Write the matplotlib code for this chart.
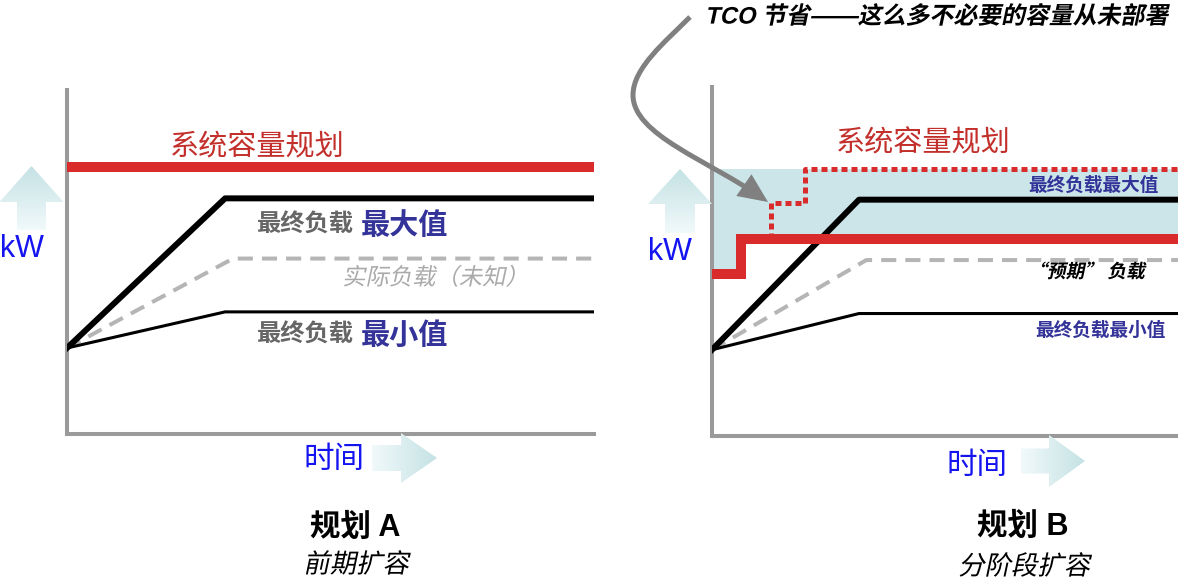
import matplotlib
matplotlib.use("Agg")
import matplotlib.pyplot as plt
import numpy as np
from matplotlib.patches import Polygon, FancyArrowPatch
from matplotlib.path import Path
from matplotlib.patheffects import AbstractPathEffect
from matplotlib.transforms import Affine2D
from matplotlib.colors import LinearSegmentedColormap

plt.rcParams['font.family'] = ['Noto Sans CJK SC', 'DejaVu Sans']

# ---- load curves (same for both plans), time in arbitrary units, load in kW ----
time_pts = [0, 3, 10]
load_max = [25, 68.5, 68.5]
load_min = [25, 35.5, 35.5]
expected_time = [0, 3.15, 10]
load_expected = [25, 51, 51]

# ---- plan A: full capacity installed up front ----
capacity_a = 77.5

# ---- plan B: capacity added in stages ----
stage_time = [0, 0.6, 10]
stage_kw = [47, 57, 57]
unbuilt_time = [1.2, 1.2, 1.9, 10]
unbuilt_kw = [57, 67.5, 77.5, 77.5]

# ---- colours ----
RED = '#d92b2b'
RED_TEXT = '#c3302c'
AXIS_GREY = '#9a9a9a'
DASH_GREY = '#b5b5b5'
FILL = '#cbe5e8'
BLUE = '#1414f0'
NAVY = '#333399'
DARK_GREY = '#666666'
LIGHT_GREY = '#aaaaaa'


class Oblique(AbstractPathEffect):
    """Slant glyph outlines to fake an italic face for CJK text."""

    def __init__(self, angle=12):
        super().__init__()
        self._skew = Affine2D().skew_deg(angle, 0)

    def draw_path(self, renderer, gc, tpath, affine, rgbFace=None):
        renderer.draw_path(gc, tpath, self._skew + affine, rgbFace)


ITALIC = [Oblique(12)]

W, H = 1178, 585
fig = plt.figure(figsize=(W / 100, H / 100), dpi=100)


def px_axes(left, top, right, bottom, **kw):
    return fig.add_axes([left / W, 1 - bottom / H, (right - left) / W, (bottom - top) / H], **kw)


def style_panel(ax, ytop):
    ax.set_xlim(0, 10)
    ax.set_ylim(0, ytop)
    ax.set_xticks([])
    ax.set_yticks([])
    ax.patch.set_alpha(0)
    for side in ('top', 'right'):
        ax.spines[side].set_visible(False)
    for side in ('left', 'bottom'):
        ax.spines[side].set_color(AXIS_GREY)
        ax.spines[side].set_linewidth(2.9)


def draw_loads(ax):
    ax.plot(expected_time, load_expected, color=DASH_GREY, lw=2.9,
            dashes=(3.75, 2.25), solid_capstyle='butt', zorder=2)
    ax.plot(time_pts, load_min, color='black', lw=2.2, zorder=3)
    ax.plot(time_pts, load_max, color='black', lw=4.3, zorder=3)


# ================= Plan A =================
ax_a = px_axes(67, 90, 594, 434)
style_panel(ax_a, 100)
ax_a.plot([0, 10], [capacity_a, capacity_a], color=RED, lw=7.2,
          solid_capstyle='butt', zorder=4)
draw_loads(ax_a)

ax_a.text(1.95, 83.4, '系统容量规划', color=RED_TEXT, fontsize=21, ha='left', va='center')
ax_a.text(3.6, 60.8, '最终负载', color=DARK_GREY, fontsize=17.5, fontweight='bold',
          ha='left', va='center')
ax_a.text(5.58, 60.8, '最大值', color=NAVY, fontsize=21, fontweight='bold',
          ha='left', va='center')
ax_a.text(5.22, 45.3, '实际负载（未知）', color=LIGHT_GREY, fontsize=16.8,
          ha='left', va='center', path_effects=ITALIC)
ax_a.text(3.6, 28.8, '最终负载', color=DARK_GREY, fontsize=17.5, fontweight='bold',
          ha='left', va='center')
ax_a.text(5.58, 28.8, '最小值', color=NAVY, fontsize=21, fontweight='bold',
          ha='left', va='center')

# ================= Plan B =================
ax_b = px_axes(712, 87, 1202, 436)
style_panel(ax_b, 349 / 3.45)
ax_b.fill_between(stage_time, stage_kw, capacity_a, step='post',
                  color=FILL, lw=0, zorder=1)
draw_loads(ax_b)
ax_b.plot(unbuilt_time, unbuilt_kw, color=RED, lw=3.6, dashes=(1.2, 0.8),
          drawstyle='steps-post', zorder=4)
ax_b.plot(stage_time, stage_kw, color=RED, lw=7.2, drawstyle='steps-post',
          solid_capstyle='butt', solid_joinstyle='miter', zorder=5)

ax_b.text(2.53, 84.9, '系统容量规划', color=RED_TEXT, fontsize=21, ha='left', va='center')
ax_b.text(6.45, 72.8, '最终负载最大值', color=NAVY, fontsize=13.4, fontweight='bold',
          ha='left', va='center')
ax_b.text(6.45, 47.5, '“预期” 负载', color='black', fontsize=13.5, fontweight='bold',
          ha='left', va='center', path_effects=ITALIC)
ax_b.text(6.59, 30.7, '最终负载最小值', color=NAVY, fontsize=13.4, fontweight='bold',
          ha='left', va='center')

# ================= decorations (figure pixel space) =================
deco = fig.add_axes([0, 0, 1, 1], zorder=5)
deco.set_axis_off()

arrow_cmap = LinearSegmentedColormap.from_list('arrow', ['#f1f9fa', '#c5e2e5'])


def gradient_arrow(verts, vertical):
    verts = np.asarray(verts, float)
    x0, x1 = verts[:, 0].min(), verts[:, 0].max()
    y0, y1 = verts[:, 1].min(), verts[:, 1].max()
    poly = Polygon(verts, closed=True, transform=deco.transData,
                   facecolor='none', edgecolor='none')
    deco.add_patch(poly)
    if vertical:
        grad = np.linspace(1, 0, 64).reshape(-1, 1)
    else:
        grad = np.linspace(0, 1, 64).reshape(1, -1)
    im = deco.imshow(grad, cmap=arrow_cmap, extent=(x0, x1, y1, y0), origin='upper',
                     aspect='auto', interpolation='bilinear', vmin=0, vmax=1)
    im.set_clip_path(poly)


def up_arrow(cx, tip, base, bottom, head_half, shaft_half):
    return [(cx, tip), (cx + head_half, base), (cx + shaft_half, base),
            (cx + shaft_half, bottom), (cx - shaft_half, bottom),
            (cx - shaft_half, base), (cx - head_half, base)]


def right_arrow(cy, left, base, tip, head_half, shaft_half):
    return [(tip, cy), (base, cy - head_half), (base, cy - shaft_half),
            (left, cy - shaft_half), (left, cy + shaft_half),
            (base, cy + shaft_half), (base, cy + head_half)]


gradient_arrow(up_arrow(31.5, 166, 202, 230, 32, 14.5), True)
gradient_arrow(up_arrow(680, 169, 204, 233, 32, 15), True)
gradient_arrow(right_arrow(458, 372, 401, 437, 25, 13), False)
gradient_arrow(right_arrow(461, 1021, 1049, 1085, 26, 12.5), False)

deco.text(22, 249, 'kW', color=BLUE, fontsize=22, family='Liberation Sans',
          ha='center', va='center')
deco.text(670, 252, 'kW', color=BLUE, fontsize=22, family='Liberation Sans',
          ha='center', va='center')
deco.text(334, 459, '时间', color=BLUE, fontsize=22, ha='center', va='center')
deco.text(977, 466, '时间', color=BLUE, fontsize=22, ha='center', va='center')

deco.text(355, 528, '规划 A', color='black', fontsize=22, fontweight='bold',
          family=['Liberation Sans', 'Noto Sans CJK SC'], ha='center', va='center')
deco.text(356, 565, '前期扩容', color='black', fontsize=19, ha='center', va='center',
          path_effects=ITALIC)
deco.text(1023, 527, '规划 B', color='black', fontsize=22, fontweight='bold',
          family=['Liberation Sans', 'Noto Sans CJK SC'], ha='center', va='center')
deco.text(1024, 567, '分阶段扩容', color='black', fontsize=19, ha='center', va='center',
          path_effects=ITALIC)

deco.text(705, 17, 'TCO 节省——这么多不必要的容量从未部署', color='black', fontsize=17.2,
          fontweight='bold', family=['Liberation Sans', 'Noto Sans CJK SC'],
          ha='left', va='center', path_effects=ITALIC)

callout = Path([(690, 17), (665, 42), (633, 68), (633, 95),
                (633, 135), (708, 160), (768, 202)],
               [Path.MOVETO] + [Path.CURVE4] * 6)
deco.add_patch(FancyArrowPatch(path=callout, transform=deco.transData,
                               arrowstyle='-|>,head_length=1.0,head_width=0.45',
                               mutation_scale=15, lw=3.6, color='#808080',
                               joinstyle='miter', capstyle='butt'))

deco.set_xlim(0, W)
deco.set_ylim(H, 0)

fig.savefig('out.png', dpi=100)
